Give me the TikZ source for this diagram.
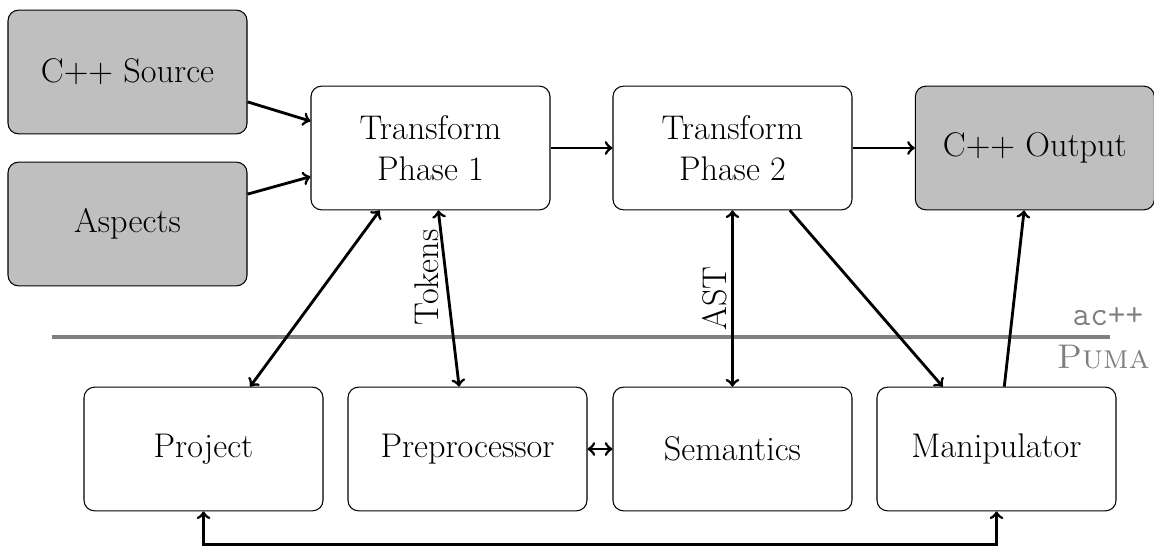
\documentclass[tikz,border=0pt]{standalone}
\usetikzlibrary{calc}
\begin{document}
\begin{tikzpicture}[
  font=\fontsize{16.3}{19.5}\selectfont,
  block/.style={draw, line width=0.5pt, rounded corners=5pt, minimum width=4cm,
                minimum height=2.07cm, align=center, inner sep=2pt},
  ext/.style={block, fill=black!25},
  flow/.style={line width=1.35pt, ->},
  both/.style={line width=1.35pt, <->},
  layer/.style={draw=black!50, line width=1.6pt},
  lbl/.style={text=black!50}
]
\useasboundingbox (0,0) rectangle (19.314,-9.155);

% inputs
\node[ext] (src) at (2.134,-1.205) {C++ Source};
\node[ext] (asp) at (2.134,-3.749) {Aspects};

% weaver phases
\node[block] (t1) at (7.205,-2.477) {Transform\\Phase 1};
\node[block] (t2) at (12.259,-2.477) {Transform\\Phase 2};
\node[ext]   (out) at (17.32,-2.477) {C++ Output};

% parser framework
\node[block] (proj) at (3.406,-7.515) {Project};
\node[block] (pre)  at (7.824,-7.515) {Preprocessor};
\node[block] (sem)  at (12.259,-7.515) {Semantics};
\node[block] (man)  at (16.678,-7.515) {Manipulator};

% layer boundary
\coordinate (lineL) at (0.87,-5.64);
\coordinate (lineR) at (18.58,-5.64);
\draw[layer] (lineL) -- (lineR);
\node[lbl, anchor=base east, inner sep=0pt] (acpp) at (19.14,-5.44) {\texttt{ac++}};
\node[lbl, anchor=base east, inner sep=0pt] (puma) at (19.25,-6.16) {\textsc{Puma}};

% data flow
\draw[flow] ($(src.east)+(0,-0.5)$) -- ($(t1.west)+(0,0.45)$);
\draw[flow] ($(asp.east)+(0,0.5)$) -- ($(t1.west)+(0,-0.48)$);
\draw[flow] (t1.east) -- (t2.west);
\draw[flow] (t2.east) -- (out.west);

\draw[both] ($(t1.south)+(-0.85,0)$) -- ($(proj.north)+(0.78,0)$);
\draw[both] ($(t1.south)+(0.13,0)$) -- node[pos=0.38, rotate=90, anchor=south, inner sep=3pt] {Tokens} ($(pre.north)+(-0.14,0)$);
\draw[both] (t2.south) -- node[pos=0.5, rotate=90, anchor=south, inner sep=2pt] {AST} (sem.north);
\draw[flow] ($(t2.south)+(0.96,0)$) -- ($(man.north)+(-0.9,0)$);
\draw[flow] ($(man.north)+(0.13,0)$) -- ($(out.south)+(-0.18,0)$);
\draw[both] (pre.east) -- (sem.west);

\coordinate (busL) at ($(proj.south)+(0,-0.55)$);
\draw[both] (proj.south) -- (busL) -| (man.south);
\end{tikzpicture}
\end{document}
